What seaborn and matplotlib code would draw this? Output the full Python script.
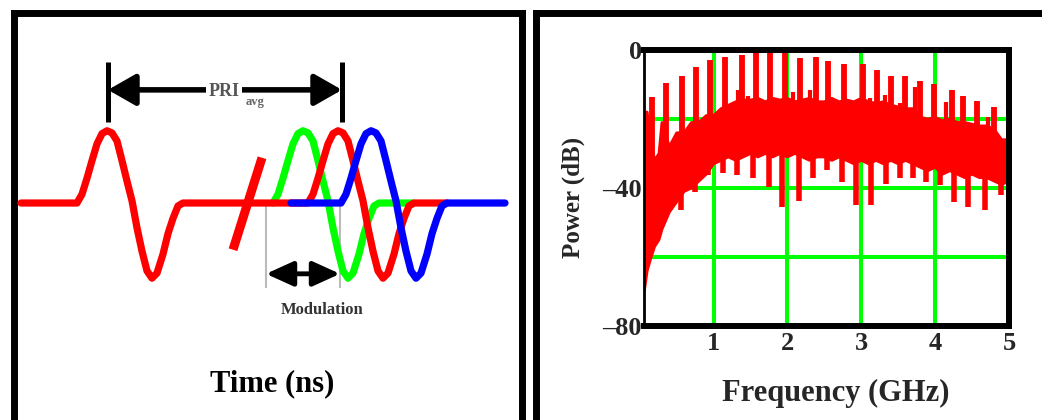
import matplotlib
matplotlib.use("Agg")
import matplotlib.pyplot as plt
import numpy as np
import pandas as pd
import seaborn as sns

# ---------------- Left panel data (time in drawing units, amplitude normalised) -------------
pulse_t = [0, 5, 10, 15, 20, 25, 30, 35, 40, 45, 50, 55, 60, 65, 70, 75, 80, 86, 91, 96, 101, 106]
pulse_a = [0, 0.12, 0.34, 0.58, 0.81, 0.95, 0.99, 0.96, 0.85, 0.58, 0.30, 0.03,
           -0.34, -0.66, -0.93, -1.03, -0.96, -0.70, -0.42, -0.21, -0.04, 0]
red_pulse_starts = [77, 308]
red_span = [21, 447]
green_pulse_starts = [273]
green_span = [273, 413]
blue_pulse_starts = [341]
blue_span = [291, 505]
break_t = [233, 262]
break_a = [-0.64, 0.62]
pri_marks = [108, 342]
mod_marks = [266, 340]

# ---------------- Right panel data (spectrum) ----------------
band_freq = [0.06, 0.10, 0.14, 0.20, 0.26, 0.30, 0.40, 0.50, 0.60, 0.70, 0.80, 0.90, 1.00,
             1.10, 1.20, 1.30, 1.40, 1.50, 1.60, 1.70, 1.80, 1.90, 2.00, 2.10, 2.20, 2.30,
             2.40, 2.50, 2.60, 2.70, 2.80, 2.90, 3.00, 3.10, 3.20, 3.30, 3.40, 3.50, 3.60,
             3.70, 3.80, 3.90, 4.00, 4.10, 4.20, 4.30, 4.40, 4.50, 4.60, 4.70, 4.80, 4.90, 5.00]
band_top = [-18, -18, -25, -32, -30, -21, -28, -24, -24, -21, -21, -19, -19,
            -17, -16, -15, -14.5, -14.5, -14, -15, -14, -14.5, -14, -15, -14.5, -14,
            -15, -15, -14, -15, -14.5, -15, -14, -15, -15.5, -15, -16, -16.5, -17,
            -17, -19.5, -20, -19.5, -20.5, -20, -21, -21, -21.5, -22, -22, -23, -26, -26]
band_bot = [-70, -64, -61, -57, -55, -52, -47, -44, -41, -40, -38, -36, -33,
            -32, -31, -32, -31, -30, -31, -30, -31, -30, -31, -30, -31, -32,
            -31, -31, -32, -31, -32, -33, -32, -33, -32, -33, -32, -33, -32,
            -33, -34, -35, -34, -36, -35, -36, -37, -36, -37, -37, -38, -39, -38]
spike_freq = [0.16, 0.36, 0.57, 0.76, 0.95, 1.15, 1.38, 1.58, 1.76, 1.97, 2.17, 2.38, 2.55,
              2.77, 3.02, 3.21, 3.40, 3.59, 3.79, 3.99, 4.23, 4.38, 4.56, 4.80, 4.93]
spike_top = [-13.5, -9.6, -7.5, -4.8, -3.0, -2.1, -1.4, 0, 0, 0, -2.4, -1.9, -3.3,
             -4.0, -4.0, -5.8, -7.5, -7.5, -9.1, -9.8, -11.6, -13.3, -14.7, -16.4, -26.6]
minor_freq = [0.31, 0.50, 0.84, 1.22, 1.33, 1.47, 2.08, 2.31, 3.12, 3.32, 3.53, 3.73, 4.15, 4.72]
minor_top = [-21.3, -24, -21.3, -16.4, -11.6, -13.3, -12.2, -11.6, -14, -13, -15.4, -10.6, -15, -19.3]
dip_freq = [0.56, 0.75, 0.93, 1.12, 1.31, 1.53, 1.75, 1.93, 2.16, 2.35, 2.53, 2.74, 2.93,
            3.13, 3.34, 3.52, 3.70, 3.88, 4.06, 4.26, 4.45, 4.68, 4.89]
dip_bot = [-46.5, -41.1, -36.3, -35.6, -36.3, -37.2, -39.7, -45.5, -43.8, -37.2, -34.8, -38.2, -45.0,
           -44.9, -38.7, -37.0, -37.0, -38.2, -39.0, -44.0, -45.5, -46.5, -42.1]
x_ticks = [1, 2, 3, 4, 5]
x_tick_labels = ["1", "2", "3", "4", "5"]
y_ticks = [0, -40, -80]
y_tick_labels = ["0", "\u201340", "\u201380"]
grid_x = [1, 2, 3, 4]
grid_y = [-20, -40, -60]

RED, GREEN, BLUE = "#FF0000", "#00FF00", "#0000FF"

sns.set_style("white")
plt.rcParams["font.family"] = ["Liberation Serif", "DejaVu Serif"]
plt.rcParams["font.weight"] = "bold"

W, H = 1042, 420
fig = plt.figure(figsize=(W / 100, H / 100), dpi=100, facecolor="white")


def trace(span, starts):
    t, a = [span[0]], [0.0]
    for s in starts:
        t += [s + v for v in pulse_t]
        a += pulse_a
    t.append(span[1])
    a.append(0.0)
    return pd.DataFrame({"t": t, "a": a})


# ---------------- Left panel ----------------
top_frac = 1 - 13.5 / H
axL = fig.add_axes([13.8 / W, -0.2, (522 - 13.8) / W, top_frac + 0.2])
axL.set_xlim(13.8, 522)
axL.set_ylim(-4.123, 2.596)
for side in ["left", "top", "right"]:
    axL.spines[side].set_linewidth(5.0)
    axL.spines[side].set_color("black")
axL.spines["bottom"].set_visible(False)
axL.set_xticks([])
axL.set_yticks([])

lw_wave = 5.2
sns.lineplot(data=trace(green_span, green_pulse_starts), x="t", y="a", sort=False,
             estimator=None, color=GREEN, lw=lw_wave, ax=axL, zorder=3)
sns.lineplot(data=trace(red_span, red_pulse_starts), x="t", y="a", sort=False,
             estimator=None, color=RED, lw=lw_wave, ax=axL, zorder=4)
sns.lineplot(data=trace(blue_span, blue_pulse_starts), x="t", y="a", sort=False,
             estimator=None, color=BLUE, lw=lw_wave, ax=axL, zorder=5)
sns.lineplot(x=break_t, y=break_a, color=RED, lw=6.5, ax=axL, zorder=4,
             solid_capstyle="butt")
axL.set_xlabel("")
axL.set_ylabel("")

# PRI markers and arrow
axL.vlines(pri_marks, 1.11, 1.93, color="black", lw=3.6, zorder=6)
axL.annotate("", xy=(pri_marks[0], 1.55), xytext=(pri_marks[1], 1.55),
             arrowprops=dict(arrowstyle="<|-|>,head_length=0.42,head_width=0.24",
                             mutation_scale=40, lw=4, color="black",
                             shrinkA=0, shrinkB=0), zorder=6)
axL.text(224, 1.53, "PRI", ha="center", va="center", fontsize=13, color="#555555",
         fontweight="bold", zorder=8,
         bbox=dict(facecolor="white", edgecolor="none", pad=2))
axL.text(255, 1.38, "avg", ha="center", va="center", fontsize=9, color="#666666",
         fontweight="bold", zorder=8)

# Modulation markers and arrow
axL.vlines(mod_marks, -1.17, 0, color="#bbbbbb", lw=1.5, zorder=2)
axL.annotate("", xy=(mod_marks[0], -0.97), xytext=(mod_marks[1], -0.97),
             arrowprops=dict(arrowstyle="<|-|>,head_length=0.55,head_width=0.25",
                             mutation_scale=30, lw=3.5, color="black",
                             shrinkA=0, shrinkB=0), zorder=6)
axL.text(322, -1.47, "Modulation", ha="center", va="center", fontsize=12,
         color="#333333", fontweight="bold")
axL.text(272, -2.47, "Time (ns)", ha="center", va="center", fontsize=22,
         fontweight="bold", color="black")

# ---------------- Right panel frame ----------------
axF = fig.add_axes([536 / W, -0.2, 0.6, top_frac + 0.2])
axF.set_xticks([])
axF.set_yticks([])
for side in ["left", "top"]:
    axF.spines[side].set_linewidth(5.0)
    axF.spines[side].set_color("black")
for side in ["right", "bottom"]:
    axF.spines[side].set_visible(False)

# ---------------- Spectrum axes ----------------
axR = fig.add_axes([643.5 / W, 1 - 326 / H, (1009 - 643.5) / W, (326 - 50) / H])
axR.set_facecolor("white")
for g in grid_x:
    axR.axvline(g, color=GREEN, lw=2.9, zorder=1)
for g in grid_y:
    axR.axhline(g, color=GREEN, lw=2.9, zorder=1)

axR.fill_between(band_freq, band_bot, band_top, color=RED, lw=0, zorder=2)
sns.lineplot(x=band_freq, y=band_top, color=RED, lw=2.0, ax=axR, zorder=2)
sns.lineplot(x=band_freq, y=band_bot, color=RED, lw=2.0, ax=axR, zorder=2)
axR.vlines(spike_freq, -30, spike_top, color=RED, lw=4.2, zorder=2)
axR.vlines(minor_freq, -30, minor_top, color=RED, lw=3.0, zorder=2)
axR.vlines(dip_freq, -26, dip_bot, color=RED, lw=4.0, zorder=2)

axR.set_xlim(0.05, 5.0)
axR.set_ylim(-80, 0)
axR.set_xticks(x_ticks)
axR.set_xticklabels(x_tick_labels, fontsize=19, fontweight="bold")
axR.set_yticks(y_ticks)
axR.set_yticklabels(y_tick_labels, fontsize=19, fontweight="bold")
axR.tick_params(axis="both", length=0)
axR.tick_params(axis="x", pad=4)
axR.tick_params(axis="y", pad=1)
for side in ["top", "right", "bottom"]:
    axR.spines[side].set_linewidth(4.3)
    axR.spines[side].set_color("black")
axR.spines["left"].set_linewidth(2.0)
axR.spines["left"].set_color("black")

axR.set_xlabel("Frequency (GHz)", fontsize=22, fontweight="bold", va="center")
axR.xaxis.set_label_coords((836 - 643.5) / 365.5, (326 - 393) / 276)
axR.set_ylabel("Power (dB)", fontsize=18, fontweight="bold", va="center")
axR.yaxis.set_label_coords((573 - 643.5) / 365.5, (326 - 197) / 276)

fig.savefig("out.png", dpi=100, facecolor="white")
